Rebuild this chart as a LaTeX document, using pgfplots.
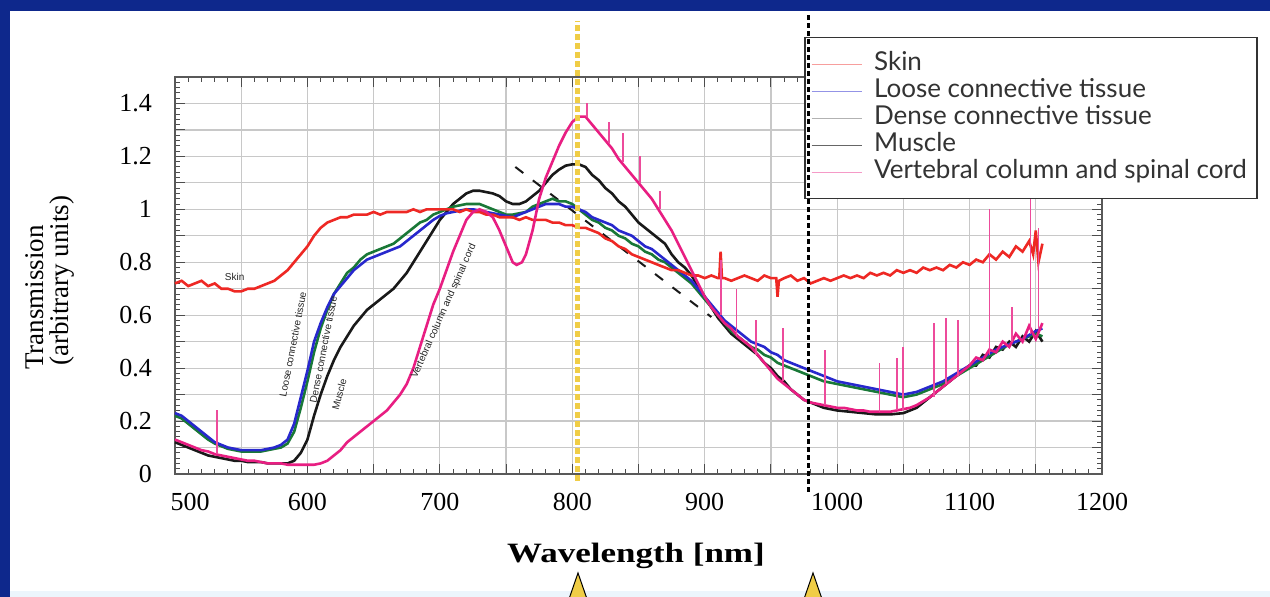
\documentclass[border=0pt]{standalone}
\usepackage{pgfplots}
\pgfplotsset{compat=1.18}
\usepackage{fontspec}
\setmainfont{Liberation Serif}
\newfontfamily\legfont{Lato}
\newfontfamily\lblfont{Liberation Sans}
\definecolor{Frame}{RGB}{14,40,140}
\definecolor{SkinC}{RGB}{238,40,36}
\definecolor{LooseC}{RGB}{40,40,205}
\definecolor{DenseC}{RGB}{25,120,55}
\definecolor{MuscleC}{RGB}{25,25,25}
\definecolor{VertC}{RGB}{232,30,130}
\definecolor{MarkY}{RGB}{240,205,70}
\definecolor{GridC}{RGB}{200,200,200}
\definecolor{PaleB}{RGB}{236,245,252}

\begin{document}
\begin{tikzpicture}
\useasboundingbox (0,0) rectangle (635pt,298.5pt);
\fill[Frame] (0,0) rectangle (635pt,298.5pt);
\fill[white] (5pt,0) rectangle (635pt,293pt);
\fill[PaleB] (5pt,0) rectangle (635pt,3pt);

\begin{axis}[
at={(87.5pt,61.5pt)}, anchor=south west,
scale only axis, width=463.5pt, height=198.5pt,
xmin=500, xmax=1200, ymin=0, ymax=1.5,
xtick={500,550,...,1200},
xticklabels={{\hspace*{15pt}500},,600,,700,,800,,900,,1000,,1100,,1200},
ytick={0,0.1,0.2,0.3,0.4,0.5,0.6,0.7,0.8,0.9,1.0,1.1,1.2,1.3,1.4,1.5},
yticklabels={0,,0.2,,0.4,,0.6,,0.8,,1,,1.2,,1.4,},
minor x tick num=4, minor y tick num=4,
tick pos=both, tick align=inside,
major tick length=5pt, minor tick length=2.5pt,
grid=major, major grid style={GridC, line width=0.6pt},
axis line style={gray!70!black, line width=0.7pt},
every tick/.style={gray!60!black, line width=0.5pt},
tick label style={font=\fontsize{13}{15}\selectfont},
yticklabel style={xshift=-8pt},
xticklabel style={yshift=-6pt},
clip=false,
unbounded coords=jump,
legend style={at={(0.679,1.1008)}, anchor=north west,
  draw=gray!40!black, line width=0.7pt, fill=white,
  font=\legfont\fontsize{13}{13}\selectfont, text=black!80,
  inner xsep=3pt, inner ysep=7pt, row sep=1pt,
  nodes={inner ysep=0pt, text height=9.5pt, text depth=3pt}},
legend cell align=left,
legend image code/.code={\draw[#1] (0pt,0pt) -- (25pt,0pt); \path (29pt,0pt);},
]

% dashed guide line
\addplot[MuscleC, line width=1pt, dash pattern=on 5pt off 6pt, forget plot]
coordinates {(757,1.16)(905,0.593)};

% Muscle
\addplot[MuscleC, line width=1.3pt, forget plot] coordinates {
(500,0.12)(505,0.11)(510,0.10)(515,0.09)(520,0.08)(525,0.07)(530,0.065)(535,0.06)
(540,0.055)(545,0.05)(550,0.05)(555,0.045)(560,0.045)(565,0.045)(570,0.04)(575,0.04)
(580,0.04)(585,0.04)(590,0.05)(595,0.08)(600,0.13)(605,0.22)(610,0.30)(615,0.37)
(620,0.43)(625,0.48)(630,0.52)(635,0.56)(640,0.59)(645,0.62)(650,0.64)(655,0.66)
(660,0.68)(665,0.70)(670,0.73)(675,0.76)(680,0.80)(685,0.84)(690,0.88)(695,0.92)
(700,0.96)(705,0.99)(710,1.02)(715,1.04)(720,1.06)(725,1.07)(730,1.07)(735,1.065)
(740,1.06)(745,1.05)(750,1.03)(755,1.02)(760,1.02)(765,1.03)(770,1.05)(775,1.07)
(780,1.10)(785,1.13)(790,1.15)(795,1.165)(800,1.17)(805,1.17)(810,1.16)(815,1.13)
(820,1.11)(825,1.08)(830,1.06)(835,1.03)(840,1.01)(845,0.98)(850,0.95)(855,0.93)
(860,0.91)(865,0.89)(870,0.87)(875,0.83)(880,0.80)(885,0.78)(890,0.75)(895,0.71)
(900,0.67)(905,0.63)(910,0.59)(915,0.56)(920,0.53)(925,0.51)(930,0.49)(935,0.47)
(940,0.45)(945,0.42)(950,0.40)(955,0.37)(960,0.35)(965,0.32)(970,0.30)(975,0.28)
(980,0.27)(985,0.26)(990,0.25)(995,0.245)(1000,0.24)(1010,0.235)(1020,0.23)
(1030,0.225)(1040,0.225)(1050,0.23)(1060,0.25)(1070,0.29)(1080,0.33)(1090,0.37)
(1100,0.41)(1105,0.41)(1110,0.45)(1115,0.44)(1120,0.48)(1125,0.47)(1130,0.50)
(1135,0.48)(1140,0.52)(1145,0.50)(1150,0.54)(1155,0.50)};

% Dense connective tissue
\addplot[DenseC, line width=1.3pt, forget plot] coordinates {
(500,0.22)(505,0.21)(510,0.19)(515,0.17)(520,0.15)(525,0.13)(530,0.115)(535,0.105)
(540,0.095)(545,0.09)(550,0.085)(555,0.085)(560,0.085)(565,0.085)(570,0.09)(575,0.095)
(580,0.10)(585,0.115)(590,0.16)(595,0.25)(600,0.35)(605,0.46)(610,0.55)(615,0.62)
(620,0.68)(625,0.72)(630,0.76)(635,0.78)(640,0.81)(645,0.83)(650,0.84)(655,0.85)
(660,0.86)(665,0.87)(670,0.89)(675,0.91)(680,0.93)(685,0.95)(690,0.96)(695,0.98)
(700,0.99)(705,1.00)(710,1.01)(715,1.015)(720,1.02)(725,1.02)(730,1.02)(735,1.01)
(740,1.00)(745,0.99)(750,0.98)(755,0.98)(760,0.985)(765,0.99)(770,1.01)(775,1.02)
(780,1.03)(785,1.04)(790,1.03)(795,1.03)(800,1.02)(805,1.00)(810,0.98)(815,0.96)
(820,0.95)(825,0.93)(830,0.92)(835,0.90)(840,0.89)(845,0.87)(850,0.86)(855,0.84)
(860,0.83)(865,0.81)(870,0.80)(875,0.78)(880,0.76)(885,0.74)(890,0.72)(895,0.69)
(900,0.66)(905,0.63)(910,0.60)(915,0.57)(920,0.54)(925,0.52)(930,0.50)(935,0.48)
(940,0.47)(945,0.45)(950,0.44)(955,0.42)(960,0.41)(965,0.40)(970,0.39)(975,0.38)
(980,0.37)(985,0.36)(990,0.35)(995,0.345)(1000,0.34)(1010,0.33)(1020,0.32)(1030,0.31)
(1040,0.30)(1050,0.29)(1060,0.30)(1070,0.32)(1080,0.34)(1090,0.37)(1100,0.40)
(1110,0.43)(1120,0.46)(1130,0.49)(1140,0.51)(1150,0.53)(1155,0.52)};

% Loose connective tissue
\addplot[LooseC, line width=1.3pt, forget plot] coordinates {
(500,0.23)(505,0.22)(510,0.20)(515,0.18)(520,0.16)(525,0.14)(530,0.12)(535,0.11)
(540,0.10)(545,0.095)(550,0.09)(555,0.09)(560,0.09)(565,0.09)(570,0.095)(575,0.10)
(580,0.11)(585,0.13)(590,0.19)(595,0.29)(600,0.39)(605,0.50)(610,0.57)(615,0.63)
(620,0.68)(625,0.71)(630,0.74)(635,0.77)(640,0.79)(645,0.81)(650,0.82)(655,0.83)
(660,0.84)(665,0.85)(670,0.86)(675,0.88)(680,0.90)(685,0.92)(690,0.94)(695,0.96)
(700,0.975)(705,0.985)(710,0.99)(715,0.995)(720,1.00)(725,1.00)(730,0.995)(735,0.99)
(740,0.985)(745,0.98)(750,0.975)(755,0.97)(760,0.98)(765,0.99)(770,1.00)(775,1.01)
(780,1.02)(785,1.02)(790,1.02)(795,1.01)(800,1.01)(805,1.00)(810,0.99)(815,0.97)
(820,0.96)(825,0.95)(830,0.94)(835,0.92)(840,0.91)(845,0.90)(850,0.88)(855,0.86)
(860,0.85)(865,0.83)(870,0.81)(875,0.79)(880,0.77)(885,0.75)(890,0.73)(895,0.70)
(900,0.67)(905,0.64)(910,0.61)(915,0.58)(920,0.56)(925,0.54)(930,0.52)(935,0.50)
(940,0.49)(945,0.48)(950,0.46)(955,0.45)(960,0.43)(965,0.42)(970,0.41)(975,0.40)
(980,0.39)(985,0.38)(990,0.37)(995,0.36)(1000,0.35)(1010,0.34)(1020,0.33)(1030,0.32)
(1040,0.31)(1050,0.30)(1060,0.31)(1070,0.33)(1080,0.35)(1090,0.38)(1100,0.41)
(1110,0.44)(1120,0.47)(1130,0.49)(1140,0.51)(1150,0.54)(1155,0.55)};

% Skin
\addplot[SkinC, line width=1.3pt, forget plot] coordinates {
(500,0.72)(505,0.73)(510,0.71)(515,0.72)(520,0.73)(525,0.71)(530,0.72)(535,0.70)
(540,0.70)(545,0.69)(550,0.69)(555,0.70)(560,0.70)(565,0.71)(570,0.72)(575,0.73)
(580,0.75)(585,0.77)(590,0.80)(595,0.83)(600,0.86)(605,0.90)(610,0.93)(615,0.95)
(620,0.96)(625,0.97)(630,0.97)(635,0.98)(640,0.98)(645,0.98)(650,0.99)(655,0.98)
(660,0.99)(665,0.99)(670,0.99)(675,0.99)(680,1.00)(685,0.99)(690,1.00)(695,1.00)
(700,1.00)(705,1.00)(710,1.00)(715,0.99)(720,1.00)(725,0.99)(730,0.99)(735,0.98)
(740,0.98)(745,0.97)(750,0.97)(755,0.97)(760,0.96)(765,0.97)(770,0.96)(775,0.96)
(780,0.96)(785,0.95)(790,0.95)(795,0.94)(800,0.94)(805,0.93)(810,0.93)(815,0.92)
(820,0.91)(825,0.89)(830,0.88)(835,0.86)(840,0.85)(845,0.83)(850,0.82)(855,0.81)
(860,0.80)(865,0.79)(870,0.78)(875,0.77)(880,0.77)(885,0.76)(890,0.75)(895,0.75)
(900,0.74)(905,0.75)(910,0.74)(911,0.74)(912,0.84)(913,0.74)(915,0.74)(920,0.73)
(925,0.74)(930,0.75)(935,0.74)(940,0.73)(945,0.75)(950,0.74)(954,0.74)(955,0.67)
(956,0.73)(960,0.74)(965,0.75)(970,0.73)(975,0.74)(980,0.72)(985,0.73)(990,0.74)
(995,0.73)(1000,0.74)(1005,0.75)(1010,0.74)(1015,0.75)(1020,0.74)(1025,0.76)
(1030,0.75)(1035,0.76)(1040,0.75)(1045,0.77)(1050,0.76)(1055,0.77)(1060,0.76)
(1065,0.78)(1070,0.77)(1075,0.78)(1080,0.77)(1085,0.79)(1090,0.78)(1095,0.80)
(1100,0.79)(1105,0.81)(1110,0.80)(1115,0.83)(1120,0.81)(1125,0.84)(1130,0.82)
(1135,0.86)(1140,0.84)(1145,0.88)(1148,0.83)(1150,0.92)(1152,0.80)(1155,0.87)};

% Vertebral column and spinal cord
\addplot[VertC, line width=1.3pt, forget plot] coordinates {
(500,0.13)(505,0.12)(510,0.11)(515,0.10)(520,0.09)(525,0.085)(530,0.075)(535,0.07)
(540,0.065)(545,0.06)(550,0.055)(555,0.05)(560,0.05)(565,0.045)(570,0.04)(575,0.04)
(580,0.04)(585,0.035)(590,0.035)(595,0.035)(600,0.035)(605,0.035)(610,0.04)(615,0.05)
(620,0.07)(625,0.09)(630,0.12)(635,0.14)(640,0.16)(645,0.18)(650,0.20)(655,0.22)
(660,0.24)(665,0.27)(670,0.30)(675,0.34)(680,0.40)(685,0.48)(690,0.56)(695,0.64)
(700,0.70)(705,0.77)(710,0.84)(715,0.90)(720,0.96)(725,0.99)(730,1.00)(735,0.99)
(740,0.97)(745,0.92)(750,0.86)(755,0.80)(758,0.79)(762,0.80)(765,0.83)(770,0.92)
(775,1.04)(780,1.12)(785,1.18)(790,1.24)(795,1.29)(800,1.33)(805,1.35)(810,1.35)
(815,1.32)(820,1.29)(825,1.26)(830,1.23)(835,1.19)(840,1.16)(845,1.13)(850,1.10)
(855,1.07)(860,1.04)(865,1.00)(870,0.96)(875,0.92)(880,0.87)(885,0.82)(890,0.77)
(895,0.72)(900,0.67)(905,0.63)(910,0.60)(915,0.57)(920,0.55)(925,0.52)(930,0.50)
(935,0.48)(940,0.45)(945,0.42)(950,0.39)(955,0.36)(960,0.34)(965,0.32)(970,0.30)
(975,0.28)(980,0.27)(985,0.265)(990,0.26)(995,0.255)(1000,0.25)(1005,0.25)
(1010,0.245)(1015,0.24)(1020,0.24)(1025,0.235)(1030,0.235)(1035,0.235)(1040,0.235)
(1045,0.24)(1050,0.245)(1055,0.25)(1060,0.26)(1065,0.275)(1070,0.29)(1075,0.31)
(1080,0.33)(1085,0.35)(1090,0.37)(1095,0.39)(1100,0.41)(1105,0.44)(1110,0.43)
(1115,0.47)(1120,0.46)(1125,0.50)(1130,0.48)(1135,0.53)(1140,0.50)(1145,0.56)
(1150,0.51)(1155,0.57)};

% narrow spikes on the vertebral spectrum
\addplot[VertC!80, line width=0.9pt, forget plot] coordinates {
(532,0.075)(532,0.24)(532,nan)(811,1.35)(811,1.40)(811,nan)(828,1.25)(828,1.33)(828,nan)
(838,1.18)(838,1.29)(838,nan)(851,1.10)(851,1.20)(851,nan)(866,1.00)(866,1.07)(866,nan)
(912,0.60)(912,0.81)(912,nan)(924,0.52)(924,0.70)(924,nan)(939,0.45)(939,0.58)(939,nan)
(959,0.35)(959,0.55)(959,nan)(991,0.26)(991,0.47)(991,nan)(1032,0.235)(1032,0.42)(1032,nan)
(1045,0.24)(1045,0.44)(1045,nan)(1050,0.24)(1050,0.48)(1050,nan)(1073,0.29)(1073,0.57)(1073,nan)
(1082,0.34)(1082,0.59)(1082,nan)(1091,0.37)(1091,0.58)(1091,nan)(1115,0.45)(1115,1.00)(1115,nan)
(1132,0.50)(1132,0.63)(1132,nan)(1146,0.53)(1146,1.05)(1146,nan)(1152,0.55)(1152,0.93)};

% legend entries
\addlegendimage{SkinC!45, line width=0.5pt}
\addlegendentry{Skin}
\addlegendimage{LooseC!50, line width=0.5pt}
\addlegendentry{Loose connective tissue}
\addlegendimage{gray!60, line width=0.5pt}
\addlegendentry{Dense connective tissue}
\addlegendimage{gray!80!black, line width=0.5pt}
\addlegendentry{Muscle}
\addlegendimage{VertC!45, line width=0.5pt}
\addlegendentry{Vertebral column and spinal cord}

% curve annotations
\tikzset{curvelbl/.style={font=\lblfont\fontsize{5}{5}\selectfont, inner sep=0pt, text=black!85}}
\node[curvelbl, text=gray!30!black] at (axis cs:545,0.745) {Skin};
\node[curvelbl, rotate=79] at (axis cs:589,0.49) {Loose connective tissue};
\node[curvelbl, rotate=79] at (axis cs:612,0.47) {Dense connective tissue};
\node[curvelbl, rotate=75] at (axis cs:624,0.30) {Muscle};
\node[curvelbl, rotate=66] at (axis cs:703,0.615) {Vertebral column and spinal cord};

% yellow marker line at 804 nm
\draw[MarkY, line width=2.5pt, dash pattern=on 3pt off 1.5pt]
  (axis cs:804,-0.025) -- (axis cs:804,1.71);
\coordinate (b1) at (axis cs:978,-0.068);
\coordinate (b2) at (axis cs:978,1.736);
\end{axis}

\draw[black, line width=1.5pt, dash pattern=on 2.5pt off 1.5pt] (b1) -- (b2);

% axis labels
\node[font=\fontsize{14}{14}\selectfont\bfseries] at (318pt,20.5pt)
  {\scalebox{1.25}[1]{Wavelength [nm]}};
\node[rotate=90, anchor=west, font=\fontsize{13.5}{13.5}\selectfont] at (17.5pt,110pt) {Transmission};
\node[rotate=90, anchor=west, font=\fontsize{13.5}{13.5}\selectfont] at (31pt,112pt) {(arbitrary units)};

% arrows at the bottom
\filldraw[fill=MarkY, draw=black, line width=0.5pt] (284.5pt,-1pt) -- (289pt,12pt) -- (293.5pt,-1pt);
\filldraw[fill=MarkY, draw=black, line width=0.5pt] (402pt,-1pt) -- (406.5pt,12pt) -- (411pt,-1pt);
\end{tikzpicture}
\end{document}
